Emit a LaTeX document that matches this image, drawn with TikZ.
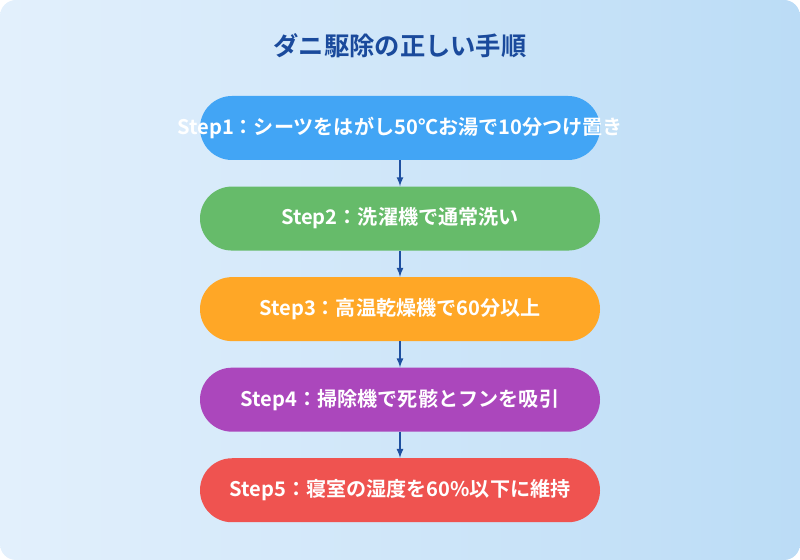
\documentclass[tikz,border=0pt]{standalone}
\usepackage{fontspec}
\newfontfamily\jp{Noto Sans CJK JP}[BoldFont={* Bold}]
\usetikzlibrary{positioning}
\definecolor{bgA}{HTML}{E3F0FC}
\definecolor{bgB}{HTML}{BBDCF6}
\definecolor{ttl}{HTML}{1A4A9C}
\definecolor{arw}{HTML}{1E4FA0}
\definecolor{cA}{HTML}{42A5F5}
\definecolor{cB}{HTML}{66BB6A}
\definecolor{cC}{HTML}{FFA726}
\definecolor{cD}{HTML}{AB47BC}
\definecolor{cE}{HTML}{EF5350}
\tikzset{
  step/.style={rectangle, rounded corners=0.8cm, minimum width=10cm, minimum height=1.6cm,
    text=white, font=\jp\bfseries\fontsize{14.3}{16}\selectfont, inner sep=0pt, fill=#1},
  flow/.style={draw=arw, line width=1.2pt, -latex}
}
\begin{document}
\begin{tikzpicture}[node distance=0.65cm]
  \shade [left color=bgA, right color=bgB, rounded corners=0.4cm] (0,0) rectangle (20,14);
  \useasboundingbox (0,0) rectangle (20,14);
  \node [text=ttl, font=\jp\bfseries\fontsize{18}{20}\selectfont] (title) at (10,12.85) {ダニ駆除の正しい手順};

  % the first text runs past its box, as in the original
  \node [step=cA] (s1) at (10,10.8) {\makebox[0pt]{Step1：シーツをはがし50℃お湯で10分つけ置き}};
  \node [step=cB, below=of s1] (s2) {Step2：洗濯機で通常洗い};
  \node [step=cC, below=of s2] (s3) {Step3：高温乾燥機で60分以上};
  \node [step=cD, below=of s3] (s4) {Step4：掃除機で死骸とフンを吸引};
  \node [step=cE, below=of s4] (s5) {Step5：寝室の湿度を60\%以下に維持};

  \foreach \a/\b in {s1/s2, s2/s3, s3/s4, s4/s5}
    \draw [flow] (\a) -- (\b);
\end{tikzpicture}
\end{document}
